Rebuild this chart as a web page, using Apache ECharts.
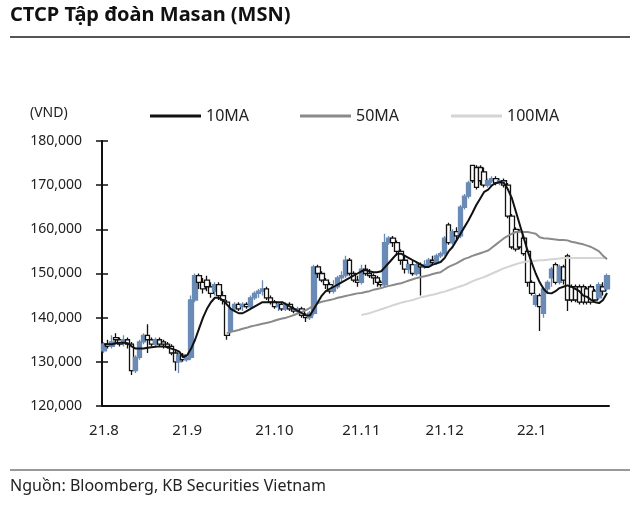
<!DOCTYPE html>
<html>
<head>
<meta charset="utf-8">
<script src="https://cdn.jsdelivr.net/npm/echarts@6/dist/echarts.min.js"></script>
<style>html,body{margin:0;padding:0;background:#fff;}#c{width:640px;height:505px;}</style>
</head>
<body>
<div id="c"></div>
<script>
// ---- Data ----
const monthLabels = ['21.8', '21.9', '21.10', '21.11', '21.12', '22.1'];
const daysPerMonth = [21, 22, 22, 21, 22, 20];
const yTicks = [120000, 130000, 140000, 150000, 160000, 170000, 180000];

const openP = [132500,134000,133500,135500,135000,134500,135000,134000,128000,131000,134500,136000,135000,134000,135000,134500,134000,133500,132000,130000,131500,130500,131000,144000,149500,148000,148500,147000,146000,147500,145000,143500,137000,142000,143000,142500,143000,142500,144500,145500,146000,146500,144500,143500,142500,143000,142000,143000,142000,141500,142000,140500,140000,141000,151500,150000,148500,147500,146000,147000,149000,149500,153000,150000,148500,148000,151000,150000,149500,149000,148000,147500,157000,158000,157000,155000,153000,151000,152000,150000,152000,151500,152000,153000,152500,154000,154500,161000,157000,159500,158500,165000,167500,174500,174000,174000,173000,170000,171000,171500,170500,171000,170000,163000,160000,159500,158000,155000,148000,143000,145000,141000,146500,149000,152000,148000,151500,154000,147000,147000,147000,147000,146500,147000,146000,144500,147000,146500];
const closeP = [134000,133500,134500,135000,134000,135000,134000,128000,131000,134500,136000,135000,134000,135000,134000,134000,133500,132000,130000,131500,130500,131000,144000,149500,148000,146500,147000,145500,147500,145000,144000,136000,142000,143000,142000,143000,142500,144500,145500,146000,146500,144500,143500,142500,143000,142000,143000,142000,141500,142000,140500,140000,141000,151500,150000,148500,147500,146000,147000,149000,149500,153000,150000,148500,148000,151000,150000,149500,149000,148000,147500,157000,158000,157000,155000,153000,151000,152000,150000,152000,151500,152000,153000,152500,154000,154500,158000,157000,159500,158500,165000,167500,170500,171000,169500,171000,170000,171000,171500,170500,171000,170000,163000,156000,155500,156000,154500,148000,145500,145000,142500,146500,148000,151000,148000,151500,148500,144000,144000,144000,143500,143500,143500,143500,144000,147500,146000,149500];
const lowP = [132000,133000,133000,134000,133500,133500,133000,127000,127500,130500,134000,132000,133500,133500,133500,133000,133000,131500,128000,127500,130000,130000,130500,143500,146500,145500,146000,144500,145000,144000,143000,135000,136500,141500,141500,141500,142000,142000,144000,144500,145000,144000,143000,142000,141500,141500,141500,141500,141000,141000,140000,139000,139500,140500,149000,148000,146500,145500,145500,146500,148000,149000,149500,148000,147000,147500,149500,149000,147500,147000,147000,147000,156500,156000,154000,152000,150000,150000,149500,149500,145000,151000,151500,152000,152000,153500,154000,156500,156500,157500,158000,164500,167000,170500,169000,170000,169500,169500,170500,170000,170000,169500,162500,155500,155000,155500,154000,147000,145000,142500,137000,140000,145500,147000,147500,147500,147500,141500,143500,143500,143000,143000,143000,143000,143500,144000,145000,146000];
const highP = [134500,135000,136000,136500,135500,136000,135500,134500,131500,135000,136500,138500,135500,135500,135500,135000,134500,134000,132500,132000,132000,131500,145000,150000,150000,149000,149500,148000,148000,148000,146000,144000,142500,143500,143500,143500,143500,145000,146000,146500,148500,147000,145000,144000,143500,143500,143500,143500,142500,142500,142500,141000,141500,152000,152000,150500,149000,148000,148500,149500,150500,154000,153500,150500,149500,152000,152000,151000,150000,149500,148500,159000,158500,158500,157500,155500,154000,152500,153000,152500,152500,153000,153500,154000,154500,155000,158500,161500,160000,160500,165500,168000,171000,174500,174500,174500,174000,171500,172000,172000,171500,171500,170500,163500,160500,160000,158500,155500,148500,145500,145500,147000,148500,151500,152500,152000,152000,154500,147500,147500,147500,147500,147000,147500,146500,148000,148000,150000];

const ma10 = [134000,134000,134000,134200,134300,134300,134200,133500,133000,133000,133000,133200,133300,133400,133500,133500,133300,133000,132700,132300,131000,131500,133000,135000,137500,140000,142000,143500,144500,144500,144000,143000,142000,141500,141000,141000,141500,142000,142500,143000,143500,143500,143500,143500,143500,143500,143000,142500,142000,141500,141000,140500,140500,142000,143500,145000,146000,146500,147000,147500,148000,148500,149000,149500,150000,150500,150800,150500,150300,150300,150500,151500,152500,153500,154500,154500,154000,153500,153000,152500,152000,151500,151500,152000,152300,152600,153500,155000,156000,157500,159000,160500,162000,163700,165500,167000,168500,169000,170000,170500,170700,170500,169000,167000,164000,161000,158000,155000,152400,150000,148000,146500,145600,145500,146000,146700,147000,147300,147000,146500,146000,145000,144700,144000,143500,143300,144000,145600];
const ma50 = [null,null,null,null,null,null,null,null,null,null,null,null,null,null,null,null,null,null,null,null,null,null,null,null,null,null,null,null,null,null,null,136500,136800,137000,137200,137500,137700,138000,138200,138400,138600,138800,139000,139300,139600,139800,140000,140300,140600,141000,141300,141700,142200,142800,143300,143600,143800,144000,144200,144500,144700,144900,145100,145300,145500,145600,145800,146000,146300,146500,146700,147000,147200,147400,147600,147800,148100,148400,148700,149000,149200,149400,149600,149900,150100,150300,150900,151500,151900,152300,152800,153300,153600,154000,154300,154600,154900,155200,155900,156600,157300,158000,158500,159000,159400,159500,159400,159400,159200,159000,158200,158000,157900,157800,157700,157600,157600,157500,157200,157000,156800,156600,156300,156000,155500,155000,154000,153200];
const ma100 = [null,null,null,null,null,null,null,null,null,null,null,null,null,null,null,null,null,null,null,null,null,null,null,null,null,null,null,null,null,null,null,null,null,null,null,null,null,null,null,null,null,null,null,null,null,null,null,null,null,null,null,null,null,null,null,null,null,null,null,null,null,null,null,null,null,140600,140800,141000,141300,141600,141900,142200,142500,142800,143100,143400,143600,143800,144000,144300,144600,144800,145000,145200,145400,145700,145900,146200,146500,146800,147100,147400,147800,148200,148600,148900,149200,149600,150000,150400,150800,151200,151500,151800,152100,152400,152600,152700,152800,152900,153000,153000,153100,153200,153300,153400,153500,153500,153500,153500,153500,153500,153500,153500,153500,153500,153500,153500];

// ---- Build categories from month labels and day counts ----
const categories = [];
const monthStart = {};
monthLabels.forEach((m, mi) => {
  for (let d = 1; d <= daysPerMonth[mi]; d++) {
    if (d === 1) monthStart[categories.length] = m;
    categories.push(m + '|' + d);
  }
});
const candles = openP.map((o, i) => [o, closeP[i], lowP[i], highP[i]]);

const FONT = 'Noto Sans';
const chart = echarts.init(document.getElementById('c'), null, {renderer: 'canvas'});
const blue = '#6a8bb6';

chart.setOption({
  animation: false,
  backgroundColor: '#fff',
  textStyle: {fontFamily: FONT},
  grid: {left: 102, right: 31, top: 141, bottom: 99, containLabel: false},
  legend: [
    {data: ['10MA'], left: 150, top: 108},
    {data: ['50MA'], left: 300, top: 108},
    {data: ['100MA'], left: 451, top: 108}
  ].map(l => Object.assign(l, {
    padding: 0, icon: 'rect', itemWidth: 51, itemHeight: 3, selectedMode: false,
    textStyle: {fontFamily: FONT, fontSize: 16, color: '#222'}
  })),
  xAxis: {
    type: 'category',
    data: categories,
    boundaryGap: true,
    axisLine: {lineStyle: {color: '#111', width: 2}},
    axisTick: {inside: true, length: 7, alignWithLabel: true, lineStyle: {color: '#111', width: 1.5},
      interval: (idx) => monthStart[idx] !== undefined},
    axisLabel: {interval: (idx) => monthStart[idx] !== undefined, margin: 17,
      formatter: (v) => v.split('|')[0], color: '#222', fontSize: 15, fontFamily: FONT},
    splitLine: {show: false}
  },
  yAxis: [
    {
      type: 'value', min: yTicks[0], max: yTicks[yTicks.length - 1], interval: 10000,
      axisLine: {show: true, lineStyle: {color: '#111', width: 2}},
      axisTick: {show: true, length: 6, lineStyle: {color: '#111', width: 1.5}},
      axisLabel: {margin: 20, color: '#222', fontSize: 14, fontFamily: FONT,
        formatter: (v) => v.toLocaleString('en-US')},
      splitLine: {show: false}
    },
    {
      type: 'value', min: yTicks[0], max: yTicks[yTicks.length - 1], interval: 10000, position: 'left',
      axisLine: {show: false},
      axisTick: {show: true, inside: true, length: 6, lineStyle: {color: '#111', width: 1.5}},
      axisLabel: {show: false},
      splitLine: {show: false}
    }
  ],
  series: [
    {
      name: 'price', type: 'candlestick', data: candles, barWidth: 5,
      itemStyle: {color: blue, color0: '#ffffff', borderColor: blue, borderColor0: '#111', borderWidth: 1.3}
    },
    {name: '10MA', type: 'line', data: ma10, symbol: 'none',
      itemStyle: {color: '#111'}, lineStyle: {color: '#111', width: 2}, z: 5},
    {name: '50MA', type: 'line', data: ma50, symbol: 'none',
      itemStyle: {color: '#8a8a8a'}, lineStyle: {color: '#8a8a8a', width: 2}, z: 4},
    {name: '100MA', type: 'line', data: ma100, symbol: 'none',
      itemStyle: {color: '#d4d4d4'}, lineStyle: {color: '#d4d4d4', width: 2}, z: 3}
  ],
  graphic: [
    {type: 'text', left: 10, top: 5, style: {text: 'CTCP Tập đoàn Masan (MSN)', font: 'bold 20px "Noto Sans"', fill: '#111'}},
    {type: 'line', shape: {x1: 10, y1: 37, x2: 630, y2: 37}, style: {stroke: '#555', lineWidth: 2}},
    {type: 'text', left: 30, top: 106, style: {text: '(VND)', font: '14px "Noto Sans"', fill: '#222'}},
    {type: 'line', shape: {x1: 10, y1: 470, x2: 630, y2: 470}, style: {stroke: '#777', lineWidth: 1.5}},
    {type: 'text', left: 10, top: 478, style: {text: 'Nguồn: Bloomberg, KB Securities Vietnam', font: '16px "Noto Sans"', fill: '#222'}}
  ]
});
</script>
</body>
</html>
